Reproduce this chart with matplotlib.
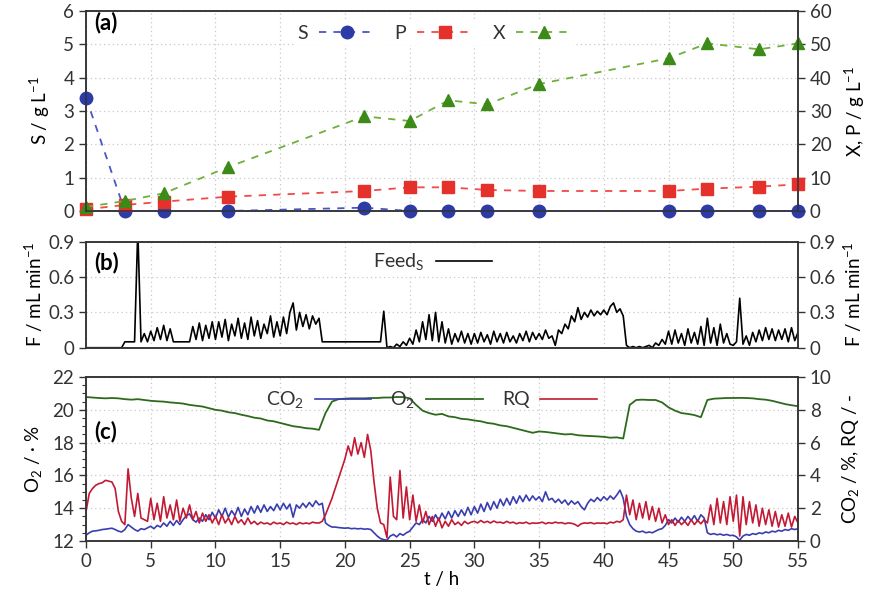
import numpy as np
import matplotlib
matplotlib.use("Agg")
import matplotlib.pyplot as plt
from matplotlib.ticker import AutoMinorLocator

plt.rcParams['font.family'] = ['Lato', 'DejaVu Sans']
plt.rcParams['font.size'] = 13.5
plt.rcParams['mathtext.fontset'] = 'custom'
plt.rcParams['mathtext.rm'] = 'Lato'
plt.rcParams['mathtext.it'] = 'Lato'
plt.rcParams['mathtext.bf'] = 'Lato:bold'
plt.rcParams['text.color'] = '#333333'

# offline samples (a)
t_samp = [0, 3, 6, 11, 21.5, 25, 28, 31, 35, 45, 48, 52, 55]
S = [3.4, 0, 0, 0, 0.1, 0, 0, 0, 0, 0, 0, 0, 0]
P = [0.5, 1.8, 2.8, 4.3, 6.0, 7.1, 7.1, 6.3, 6.0, 6.0, 6.7, 7.3, 8.0]
X = [1.2, 3.0, 5.3, 13.2, 28.4, 27.0, 33.2, 32.0, 38.1, 45.8, 50.3, 48.5, 50.3]

# online signals, every 0.25 h (feed, CO2, RQ) and 0.5 h (O2)
t_on = np.arange(0, 55.001, 0.25)
t_o2 = np.arange(0, 55.001, 0.5)

feed = [
    0, 0, 0, 0, 0, 0, 0, 0, 0, 0, 0, 0, 0.05, 0.05, 0.05, 0.05, 1.0, 0.05, 0.12, 0.05,
    0.14, 0.06, 0.17, 0.07, 0.19, 0.06, 0.16, 0.05, 0.05, 0.05, 0.05, 0.05, 0.05, 0.18, 0.07, 0.21, 0.06, 0.19, 0.08, 0.22,
    0.07, 0.22, 0.09, 0.24, 0.06, 0.2, 0.1, 0.25, 0.08, 0.21, 0.07, 0.26, 0.1, 0.23, 0.08, 0.2, 0.12, 0.27, 0.09, 0.22,
    0.1, 0.26, 0.12, 0.3, 0.38, 0.15, 0.3, 0.18, 0.28, 0.16, 0.27, 0.2, 0.25, 0.05, 0.05, 0.05, 0.05, 0.05, 0.05, 0.05,
    0.05, 0.05, 0.05, 0.05, 0.05, 0.05, 0.05, 0.05, 0.05, 0.05, 0.05, 0.05, 0.31, 0.0, 0.01, 0.0, 0.03, 0.01, 0.05, 0.02,
    0.08, 0.03, 0.15, 0.05, 0.22, 0.07, 0.28, 0.06, 0.3, 0.05, 0.22, 0.04, 0.16, 0.03, 0.12, 0.05, 0.14, 0.04, 0.12, 0.03,
    0.12, 0.04, 0.13, 0.05, 0.11, 0.03, 0.14, 0.05, 0.12, 0.04, 0.13, 0.05, 0.1, 0.04, 0.12, 0.06, 0.14, 0.05, 0.13, 0.07,
    0.12, 0.07, 0.15, 0.08, 0.1, 0.02, 0.15, 0.12, 0.2, 0.16, 0.27, 0.22, 0.34, 0.24, 0.3, 0.26, 0.32, 0.27, 0.31, 0.28,
    0.32, 0.28, 0.35, 0.38, 0.3, 0.33, 0.27, 0.02, 0.0, 0.01, 0.0, 0.01, 0.0, 0.01, 0.02, 0.0, 0.04, 0.02, 0.07, 0.03,
    0.14, 0.03, 0.15, 0.04, 0.12, 0.02, 0.16, 0.04, 0.13, 0.03, 0.18, 0.02, 0.25, 0.04, 0.17, 0.02, 0.2, 0.04, 0.12, 0.03,
    0.02, 0.05, 0.42, 0.03, 0.1, 0.02, 0.13, 0.05, 0.15, 0.06, 0.17, 0.07, 0.16, 0.06, 0.15, 0.07, 0.16, 0.05, 0.17, 0.06,
    0.13]

co2 = [
    0.35, 0.5, 0.6, 0.62, 0.65, 0.7, 0.72, 0.75, 0.78, 0.7, 0.6, 0.55, 0.7, 1.0, 0.85, 0.7, 0.6, 0.75, 0.7, 0.8,
    0.9, 0.75, 0.95, 0.85, 1.1, 0.9, 1.2, 0.95, 1.25, 1.0, 1.3, 1.55, 1.65, 1.3, 1.15, 1.4, 1.2, 1.6, 1.3, 1.75,
    1.4, 1.9, 1.5, 2.0, 1.45, 1.85, 1.55, 2.05, 1.5, 1.95, 1.6, 2.1, 1.7, 2.15, 1.75, 2.2, 1.8, 2.1, 1.85, 2.25,
    1.9, 2.3, 1.95, 2.25, 1.45, 2.2, 2.0, 2.3, 2.05, 2.35, 2.1, 2.45, 2.2, 2.3, 1.1, 0.95, 0.85, 0.85, 0.82, 0.8,
    0.78, 0.8, 0.75, 0.77, 0.74, 0.76, 0.72, 0.74, 0.7, 0.5, 0.3, 0.15, 0.08, 0.05, 0.3, 0.4, 0.25, 0.45, 0.35, 0.5,
    0.6, 0.85, 1.1, 1.0, 1.3, 1.1, 1.5, 1.2, 1.6, 1.25, 1.7, 1.35, 1.8, 1.4, 1.85, 1.5, 1.9, 1.55, 2.05, 1.6,
    2.1, 1.7, 2.25, 1.8, 2.35, 1.9, 2.4, 2.0, 2.55, 2.15, 2.6, 2.2, 2.7, 2.3, 2.75, 2.4, 2.8, 2.45, 2.75, 2.5,
    2.7, 2.4, 3.0, 2.5, 2.6, 2.35, 2.55, 2.3, 2.5, 2.2, 2.45, 2.25, 2.4, 2.1, 1.9, 2.3, 2.55, 2.4, 2.65, 2.45,
    2.7, 2.5, 2.75, 2.55, 2.8, 3.1, 2.6, 1.5, 1.0, 0.75, 0.6, 0.55, 0.6, 0.5, 0.55, 0.5, 0.6, 0.7, 0.75, 0.95,
    1.3, 1.1, 1.4, 1.15, 1.45, 1.2, 1.5, 1.25, 1.55, 1.2, 1.6, 1.4, 0.5, 0.4, 0.45, 0.38, 0.42, 0.35, 0.4, 0.33,
    0.35, 0.25, 0.05, 0.3, 0.4, 0.35, 0.45, 0.4, 0.5, 0.45, 0.55, 0.5, 0.6, 0.55, 0.65, 0.6, 0.7, 0.65, 0.75, 0.7,
    0.75]

rq = [
    1.8, 2.9, 3.2, 3.4, 3.5, 3.55, 3.7, 3.65, 3.6, 3.2, 1.8, 1.2, 1.0, 4.4, 2.6, 1.5, 2.9, 1.4, 1.3, 1.2,
    2.6, 1.3, 2.3, 1.2, 2.7, 1.4, 2.2, 1.3, 2.5, 1.2, 2.0, 1.4, 2.2, 1.3, 1.8, 1.1, 1.7, 1.2, 1.6, 1.1,
    1.5, 1.0, 1.6, 1.1, 1.4, 1.0, 1.5, 1.1, 1.3, 1.0, 1.4, 1.05, 1.2, 1.0, 1.15, 1.05, 1.1, 1.0, 1.15, 1.05,
    1.1, 1.0, 1.15, 1.05, 1.1, 1.0, 1.12, 1.05, 1.1, 1.05, 1.15, 1.1, 1.1, 1.2, 1.6, 2.1, 2.6, 3.2, 3.8, 4.4,
    5.0, 5.8, 5.2, 6.3, 5.3, 6.0, 5.1, 6.5, 5.5, 3.6, 2.0, 1.1, 1.0, 0.2, 3.9, 1.5, 1.3, 4.3, 1.4, 3.3,
    1.3, 2.8, 1.2, 2.2, 1.1, 1.8, 1.0, 1.5, 0.9, 1.4, 0.8, 1.2, 0.9, 1.3, 1.0, 1.15, 0.95, 1.2, 1.05, 1.15,
    1.2, 1.1, 1.25, 1.12, 1.2, 1.1, 1.22, 1.12, 1.15, 1.08, 1.2, 1.1, 1.15, 1.05, 1.12, 1.08, 1.15, 1.05, 1.1, 1.08,
    1.1, 1.15, 1.05, 1.12, 1.08, 1.15, 1.1, 1.12, 1.05, 1.1, 1.08, 1.02, 0.9, 1.05, 1.1, 1.08, 1.12, 1.05, 1.1, 1.08,
    1.1, 1.05, 1.15, 1.1, 1.2, 1.15, 1.3, 2.8, 1.6, 2.5, 1.3, 2.3, 1.4, 2.4, 1.3, 2.1, 1.2, 2.0, 1.1, 1.6,
    1.0, 1.3, 0.95, 1.25, 1.0, 1.2, 0.95, 1.3, 1.0, 1.25, 1.05, 1.3, 1.1, 2.2, 1.0, 2.6, 1.1, 2.4, 1.0, 2.7,
    1.2, 2.8, 0.3, 2.7, 1.0, 2.4, 1.1, 2.2, 0.9, 2.0, 1.0, 1.9, 0.9, 1.8, 0.85, 1.6, 0.9, 1.7, 0.85, 1.5,
    1.1]

o2 = [
    20.78, 20.75, 20.72, 20.7, 20.72, 20.7, 20.65, 20.62, 20.65, 20.6,
    20.55, 20.52, 20.5, 20.45, 20.42, 20.38, 20.3, 20.25, 20.2, 20.1,
    20.0, 19.95, 19.85, 19.8, 19.7, 19.62, 19.52, 19.47, 19.35, 19.3,
    19.2, 19.1, 19.0, 18.95, 18.88, 18.85, 18.78, 19.8, 20.5, 20.65,
    20.68, 20.7, 20.7, 20.7, 20.72, 20.72, 20.75, 20.75, 20.78, 20.78,
    20.7, 20.3, 19.95, 19.8, 19.7, 19.75, 19.6, 19.55, 19.45, 19.42,
    19.35, 19.3, 19.2, 19.15, 19.05, 19.0, 18.9, 18.8, 18.7, 18.6,
    18.68, 18.65, 18.6, 18.55, 18.5, 18.52, 18.45, 18.42, 18.4, 18.38,
    18.35, 18.3, 18.32, 18.25, 20.3, 20.6, 20.62, 20.6, 20.6, 20.45,
    20.15, 19.95, 19.8, 19.75, 19.68, 19.55, 20.6, 20.68, 20.7, 20.72,
    20.72, 20.73, 20.72, 20.7, 20.65, 20.62, 20.55, 20.45, 20.35, 20.28,
    20.22]

fig = plt.figure(figsize=(8.84, 5.96), dpi=100)
L, W = 0.0973, 0.8054
ax_a = fig.add_axes([L, 0.646, W, 0.3355])
ax_b = fig.add_axes([L, 0.4166, W, 0.1779])
ax_c = fig.add_axes([L, 0.0923, W, 0.2751])

grid_kw = dict(color='#c8c8c8', linestyle=(0, (1, 2.5)), linewidth=0.9)
tick_kw = dict(direction='out', length=5, width=1, colors='#333333', labelcolor='#333333')
leg_kw = dict(markerfirst=False, loc='center', handlelength=2.9, handletextpad=0.55,
              columnspacing=1.0, borderpad=0.2, fontsize=14)

def style(ax, tw):
    ax.set_xlim(0, 55)
    ax.set_xticks(range(0, 56, 5))
    ax.grid(True, **grid_kw)
    ax.tick_params(axis='y', **tick_kw)
    tw.tick_params(axis='y', **tick_kw)
    for sp in list(ax.spines.values()) + list(tw.spines.values()):
        sp.set_color('#333333')
        sp.set_linewidth(1.1)

# (a)
tw_a = ax_a.twinx()
ax_a.plot(t_samp, S, ls=(0, (4, 4)), color='#4a55c8', lw=1.3, marker='o', ms=9,
          mfc='#2c3ba6', mec='#2c3ba6', clip_on=False, label='S', zorder=5)
tw_a.plot(t_samp, P, ls=(0, (4, 4)), color='#f04a4a', lw=1.3, marker='s', ms=8.5,
          mfc='#e5312b', mec='#e5312b', clip_on=False, label='P')
tw_a.plot(t_samp, X, ls=(0, (4, 4)), color='#6fb03a', lw=1.3, marker='^', ms=9,
          mfc='#3c8a18', mec='#3c8a18', clip_on=False, label='X')
ax_a.set_ylim(0, 6)
tw_a.set_ylim(0, 60)
ax_a.set_yticks(range(0, 7))
tw_a.set_yticks(range(0, 61, 10))
style(ax_a, tw_a)
ax_a.tick_params(axis='x', bottom=False, labelbottom=False)
ax_a.set_ylabel('S / g L$^{-1}$', labelpad=8)
tw_a.set_ylabel('X, P / g L$^{-1}$', labelpad=8)
h1, l1 = ax_a.get_legend_handles_labels()
h2, l2 = tw_a.get_legend_handles_labels()
tw_a.legend(h1 + h2, l1 + l2, ncol=3, bbox_to_anchor=(0.49, 0.89), numpoints=1,
            frameon=True, facecolor='white', edgecolor='none', framealpha=1, **leg_kw)
ax_a.text(0.012, 0.945, '(a)', transform=ax_a.transAxes, fontsize=16, fontweight='bold',
          va='center', ha='left', color='black')

# (b)
tw_b = ax_b.twinx()
ax_b.plot(t_on, feed, color='black', lw=1.2, label='Feed$_\\mathregular{S}$')
ax_b.set_ylim(0, 0.9)
tw_b.set_ylim(0, 0.9)
for a in (ax_b, tw_b):
    a.set_yticks([0, 0.3, 0.6, 0.9])
    a.set_yticklabels(['0', '0.3', '0.6', '0.9'])
style(ax_b, tw_b)
ax_b.tick_params(axis='x', bottom=False, labelbottom=False)
ax_b.set_ylabel('F / mL min$^{-1}$', labelpad=2)
tw_b.set_ylabel('F / mL min$^{-1}$', labelpad=4)
ax_b.legend(bbox_to_anchor=(0.487, 0.81), frameon=True, facecolor='white', edgecolor='none',
            framealpha=1, **leg_kw)
ax_b.text(0.012, 0.8, '(b)', transform=ax_b.transAxes, fontsize=16, fontweight='bold',
          va='center', ha='left', color='black')

# (c)
tw_c = ax_c.twinx()
ax_c.plot(t_o2, o2, color='#2d6a1e', lw=1.3, label='O$_2$')
tw_c.plot(t_on, co2, color='#3a3db0', lw=1.2, label='CO$_2$')
tw_c.plot(t_on, rq, color='#c21a34', lw=1.2, label='RQ')
ax_c.set_ylim(12, 22)
tw_c.set_ylim(0, 10)
ax_c.set_yticks(range(12, 23, 2))
tw_c.set_yticks(range(0, 11, 2))
ax_c.yaxis.set_minor_locator(AutoMinorLocator(4))
style(ax_c, tw_c)
ax_c.tick_params(axis='y', which='minor', direction='out', length=3, width=0.8, colors='#333333')
ax_c.tick_params(axis='x', **tick_kw)
ax_c.set_xlabel('t / h', labelpad=1)
ax_c.set_ylabel('O$_2$ / · %', labelpad=6)
tw_c.set_ylabel('CO$_2$ / %, RQ / -', labelpad=6)
hc1, lc1 = ax_c.get_legend_handles_labels()
hc2, lc2 = tw_c.get_legend_handles_labels()
tw_c.legend([hc2[0], hc1[0], hc2[1]], [lc2[0], lc1[0], lc2[1]], ncol=3,
            bbox_to_anchor=(0.485, 0.86), frameon=False, **leg_kw)
ax_c.text(0.012, 0.67, '(c)', transform=ax_c.transAxes, fontsize=16, fontweight='bold',
          va='center', ha='left', color='black')

fig.savefig('out.png', dpi=100)
